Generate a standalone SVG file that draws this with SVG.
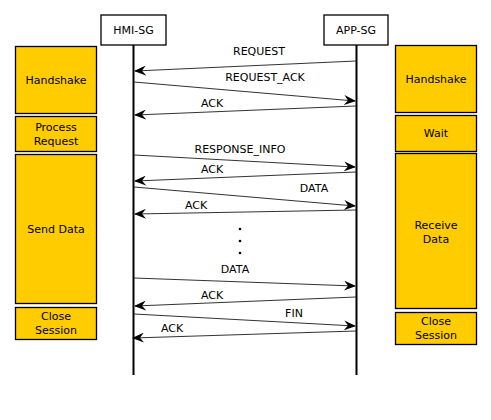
<svg xmlns="http://www.w3.org/2000/svg" width="491" height="420" viewBox="0 0 491 420">
<style>
text{font-family:"DejaVu Sans","Liberation Sans",sans-serif;font-size:11px;fill:#000;text-anchor:middle}
.phase{fill:#ffcc00;stroke:#000;stroke-width:1.3}
.actor{fill:#fff;stroke:#000;stroke-width:1.3}
.life{stroke:#000;stroke-width:2}
.msg{stroke:#333;stroke-width:1.2;fill:none;marker-end:url(#ah)}
</style>
<defs>
<marker id="ah" viewBox="0 0 12 10" refX="11" refY="5" markerWidth="12" markerHeight="10" markerUnits="userSpaceOnUse" orient="auto">
<path d="M0,0 L12,5 L0,10 L4,5 z" fill="#000"/>
</marker>
</defs>
<rect width="491" height="420" fill="#fff"/>
<g id="hmi">
<rect class="actor" x="101" y="15" width="65" height="30"/>
<text x="133.5" y="34">HMI-SG</text>
<line class="life" x1="133.5" y1="45" x2="133.5" y2="375"/>
</g>
<g id="app">
<rect class="actor" x="324" y="15" width="64" height="30"/>
<text x="356" y="34">APP-SG</text>
<line class="life" x1="356.5" y1="45" x2="356.5" y2="375"/>
</g>
<g id="l-handshake"><rect class="phase" x="15.5" y="46.5" width="81" height="67"/><text x="56" y="84">Handshake</text></g>
<g id="l-process"><rect class="phase" x="15.5" y="116.5" width="81" height="35"/><text x="56" y="131">Process</text><text x="56" y="145">Request</text></g>
<g id="l-send"><rect class="phase" x="15.5" y="154.5" width="81" height="149"/><text x="56" y="233">Send Data</text></g>
<g id="l-close"><rect class="phase" x="15.5" y="307.5" width="81" height="32"/><text x="56" y="320">Close</text><text x="56" y="334">Session</text></g>
<g id="r-handshake"><rect class="phase" x="395.5" y="45.5" width="81" height="67"/><text x="436" y="83">Handshake</text></g>
<g id="r-wait"><rect class="phase" x="395.5" y="115.5" width="81" height="36"/><text x="436" y="137">Wait</text></g>
<g id="r-receive"><rect class="phase" x="395.5" y="153.5" width="81" height="155"/><text x="436" y="229">Receive</text><text x="436" y="243">Data</text></g>
<g id="r-close"><rect class="phase" x="395.5" y="312.5" width="81" height="32"/><text x="436" y="325">Close</text><text x="436" y="339">Session</text></g>
<g id="connectors">
<line class="msg" x1="356" y1="61" x2="135" y2="71"/>
<text x="259" y="55">REQUEST</text>
<line class="msg" x1="134" y1="82" x2="355" y2="101"/>
<text x="265" y="81">REQUEST_ACK</text>
<line class="msg" x1="356" y1="106" x2="135" y2="115"/>
<text x="212" y="107">ACK</text>
<line class="msg" x1="134" y1="155" x2="355" y2="167"/>
<text x="240" y="153">RESPONSE_INFO</text>
<line class="msg" x1="356" y1="172" x2="135" y2="181"/>
<text x="212" y="173">ACK</text>
<line class="msg" x1="134" y1="187" x2="355" y2="206"/>
<text x="314" y="192">DATA</text>
<line class="msg" x1="356" y1="210" x2="135" y2="214"/>
<text x="196" y="209">ACK</text>
<circle cx="240" cy="229" r="1.3" fill="#000"/>
<circle cx="240" cy="241" r="1.3" fill="#000"/>
<circle cx="240" cy="253" r="1.3" fill="#000"/>
<line class="msg" x1="134" y1="278" x2="355" y2="286"/>
<text x="235" y="273">DATA</text>
<line class="msg" x1="356" y1="297" x2="135" y2="306"/>
<text x="212" y="299">ACK</text>
<line class="msg" x1="134" y1="314" x2="355" y2="326"/>
<text x="294" y="317">FIN</text>
<line class="msg" x1="356" y1="331" x2="133" y2="338"/>
<text x="172" y="332">ACK</text>
</g>
</svg>
